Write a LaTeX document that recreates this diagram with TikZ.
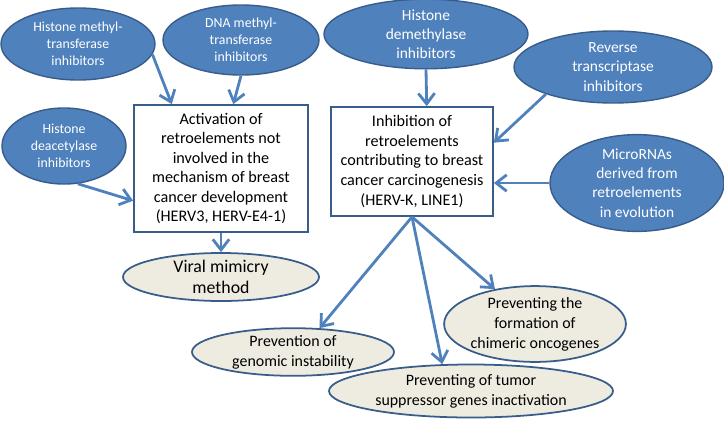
\documentclass[tikz,border=0pt]{standalone}
\usepackage{fontspec}
\setmainfont{Carlito}
\usetikzlibrary{shapes.geometric,arrows.meta,calc}
\definecolor{ofblue}{HTML}{4F81BD}
\definecolor{ofdark}{HTML}{385D8A}
\definecolor{ofbeige}{HTML}{EEECE1}

\begin{document}
\begin{tikzpicture}[
	inhib/.style={ellipse, draw=ofdark, line width=1.2pt, fill=ofblue,
		text=white, inner sep=0pt, align=center,
		font=\fontsize{11.8}{14.4}\selectfont},
	biginhib/.style={inhib, font=\fontsize{13.2}{16.4}\selectfont},
	target/.style={rectangle, draw=ofdark, line width=1.5pt, fill=white,
		inner sep=0pt, align=center, font=\fontsize{13.8}{16.7}\selectfont},
	effect/.style={ellipse, draw=ofdark, line width=1.5pt, fill=ofbeige,
		inner sep=0pt, align=center, font=\fontsize{13.6}{17}\selectfont},
	arr/.style={draw=ofblue, line width=2.4pt,
		-{Straight Barb[length=9pt,width=14pt]}}]
	\useasboundingbox (0,0) rectangle (21.72,12.6);
	% agents
	\node[inhib, minimum width=4.62cm, minimum height=2.16cm]
	(hmt) at (2.34,11.28) {Histone methyl-\\transferase\\inhibitors};
	\node[inhib, minimum width=4.68cm, minimum height=2.1cm]
	(dnmt) at (7.23,11.4) {DNA methyl-\\transferase\\inhibitors};
	\node[biginhib, minimum width=6.12cm, minimum height=2.04cm]
	(hdm) at (12.78,11.58) {Histone\\demethylase\\inhibitors};
	\node[biginhib, minimum width=5.94cm, minimum height=2.16cm]
	(rt) at (18.39,10.59) {Reverse\\transcriptase\\inhibitors};
	\node[biginhib, minimum width=5.22cm, minimum height=2.76cm]
	(mirna) at (19.11,7.11) {MicroRNAs\\derived from\\retroelements\\in evolution};
	\node[inhib, minimum width=3.72cm, minimum height=2.28cm]
	(hdac) at (1.92,8.22) {Histone\\deacetylase\\inhibitors};
	% targets
	\node[target, minimum width=5.22cm, minimum height=3.81cm]
	(act) at (6.63,7.545) {Activation of\\retroelements not\\involved in the\\mechanism of breast\\cancer development\\(HERV3, HERV-E4-1)};
	\node[target, minimum width=4.86cm, minimum height=3.27cm]
	(inh) at (12.36,7.755) {Inhibition of\\retroelements\\contributing to breast\\cancer carcinogenesis\\(HERV-K, LINE1)};
	% outcomes
	\node[effect, minimum width=5.88cm, minimum height=1.44cm,
	font=\fontsize{15.2}{18}\selectfont]
	(viral) at (6.63,4.29) {Viral mimicry\\method};
	\node[effect, minimum width=6.06cm, minimum height=1.41cm]
	(genom) at (8.79,2.04) {Prevention of\\genomic instability};
	\node[effect, minimum width=8.52cm, minimum height=1.59cm]
	(tumor) at (14.13,0.87) {Preventing of tumor\\suppressor genes inactivation};
	\node[effect, minimum width=4.62cm, minimum height=2.1cm]
	(chim) at (16.05,2.88) {Preventing the\\formation of\\chimeric oncogenes};
	% connectors
	\draw[arr] (hmt.-8) -- ($(act.north west)!0.22!(act.north east)$);
	\draw[arr] (dnmt.south) -- ($(act.north west)!0.57!(act.north east)$);
	\draw[arr] (hdac.-70) -- ($(act.north west)!0.75!(act.south west)$);
	\draw[arr] (hdm.south) -- ($(inh.north west)!0.59!(inh.north east)$);
	\draw[arr] (rt.202) -- ($(inh.north east)!0.33!(inh.south east)$);
	\draw[arr] (mirna.west) -- (mirna.west -| inh.east);
	\draw[arr] (act.south) -- (viral.north);
	\draw[arr] (inh.south) -- (genom.42);
	\draw[arr] (inh.south) -- (tumor.137);
	\draw[arr] (inh.south) -- (chim);
\end{tikzpicture}
\end{document}
